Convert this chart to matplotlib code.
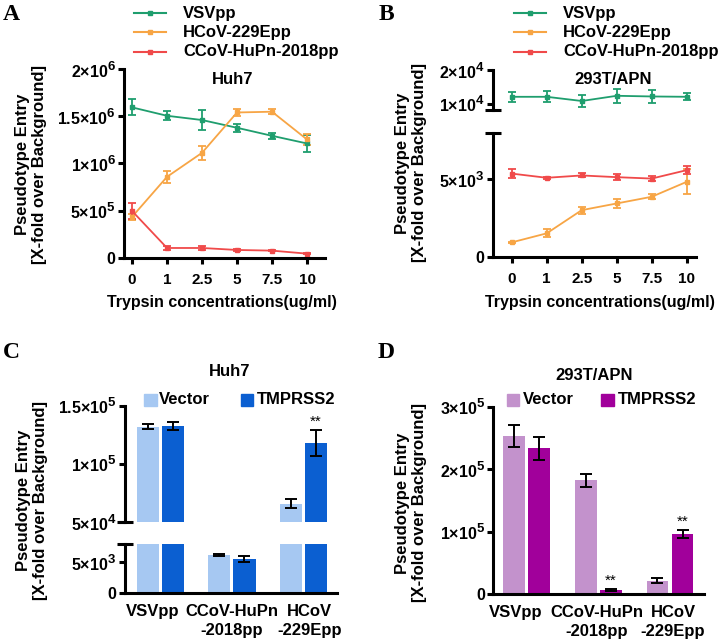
import matplotlib
matplotlib.use('Agg')
import matplotlib.pyplot as plt
from matplotlib.lines import Line2D
from matplotlib.patches import Rectangle
import numpy as np

try:
    import matplotlib._mathtext as _mt
    _mt.SHRINK_FACTOR = 0.82
except Exception:
    pass

plt.rcParams['font.family'] = ['Liberation Sans', 'DejaVu Sans']
plt.rcParams['font.weight'] = 'bold'
plt.rcParams['mathtext.fontset'] = 'custom'
plt.rcParams['mathtext.rm'] = 'Liberation Sans:bold'
plt.rcParams['mathtext.it'] = 'Liberation Sans:bold'
plt.rcParams['mathtext.bf'] = 'Liberation Sans:bold'
plt.rcParams['mathtext.sf'] = 'Liberation Sans:bold'

# ---------------- data ----------------
trypsin_labels = ['0', '1', '2.5', '5', '7.5', '10']
series_names = ['VSVpp', 'HCoV-229Epp', 'CCoV-HuPn-2018pp']

A_vsv = [1.594e6, 1.505e6, 1.46e6, 1.378e6, 1.293e6, 1.212e6]
A_vsv_err = [0.085e6, 0.048e6, 0.11e6, 0.045e6, 0.033e6, 0.09e6]
A_hcov = [0.435e6, 0.859e6, 1.113e6, 1.54e6, 1.548e6, 1.254e6]
A_hcov_err = [0.03e6, 0.062e6, 0.072e6, 0.038e6, 0.027e6, 0.062e6]
A_ccov = [0.498e6, 0.106e6, 0.106e6, 0.085e6, 0.078e6, 0.046e6]
A_ccov_err = [0.083e6, 0.025e6, 0.025e6, 0.01e6, 0.008e6, 0.005e6]

B_vsv = [1.20e4, 1.20e4, 1.075e4, 1.23e4, 1.21e4, 1.20e4]
B_vsv_err = [0.15e4, 0.17e4, 0.17e4, 0.21e4, 0.19e4, 0.10e4]
B_hcov = [0.94e3, 1.52e3, 3.01e3, 3.44e3, 3.87e3, 4.83e3]
B_hcov_err = [0.05e3, 0.26e3, 0.23e3, 0.26e3, 0.17e3, 0.80e3]
B_ccov = [5.36e3, 5.09e3, 5.24e3, 5.13e3, 5.04e3, 5.58e3]
B_ccov_err = [0.28e3, 0.08e3, 0.13e3, 0.19e3, 0.16e3, 0.27e3]

groups = ['VSVpp', 'CCoV-HuPn\n-2018pp', 'HCoV\n-229Epp']
bar_names = ['Vector', 'TMPRSS2']

C_vector = [1.319e5, 6.25e3, 6.58e4]
C_vector_err = [0.02e5, 0.19e3, 0.4e4]
C_tmprss2 = [1.328e5, 5.6e3, 1.181e5]
C_tmprss2_err = [0.035e5, 0.52e3, 1.1e4]
C_sig = [False, False, True]

D_vector = [2.537e5, 1.82e5, 2.13e4]
D_vector_err = [0.175e5, 0.107e5, 0.4e4]
D_tmprss2 = [2.335e5, 6.9e3, 9.63e4]
D_tmprss2_err = [0.18e5, 1.0e3, 0.63e4]
D_sig = [False, True, True]

A_ticks = [0, 5e5, 1e6, 1.5e6, 2e6]
A_ticklabels = ['0', r'$5{\times}10^{5}$', r'$1{\times}10^{6}$', r'$1.5{\times}10^{6}$', r'$2{\times}10^{6}$']
B_up_ticks = [1e4, 2e4]
B_up_ticklabels = [r'$1{\times}10^{4}$', r'$2{\times}10^{4}$']
B_lo_ticks = [0, 5e3]
B_lo_ticklabels = ['0', r'$5{\times}10^{3}$']
C_up_ticks = [5e4, 1e5, 1.5e5]
C_up_ticklabels = [r'$5{\times}10^{4}$', r'$1{\times}10^{5}$', r'$1.5{\times}10^{5}$']
C_lo_ticks = [0, 5e3]
C_lo_ticklabels = ['0', r'$5{\times}10^{3}$']
D_ticks = [0, 1e5, 2e5, 3e5]
D_ticklabels = ['0', r'$1{\times}10^{5}$', r'$2{\times}10^{5}$', r'$3{\times}10^{5}$']

# ---------------- style ----------------
line_colors = ['#1f9e6e', '#f7a545', '#f04a4a']
C_colors = ['#a6c8f2', '#0b5fd1']
D_colors = ['#c392cc', '#a1009b']
SPW = 2.2
YTICKFS = 11.5
XTICKFS = 11
LABFS = 11.5
YLABFS = 12
LEGFS = 12

W, H = 722, 641
fig = plt.figure(figsize=(W / 100, H / 100), dpi=100)


def ax_px(l, t, r, b):
    return fig.add_axes([l / W, 1 - b / H, (r - l) / W, (b - t) / H])


def style(ax, bottom=True):
    for s in ['top', 'right']:
        ax.spines[s].set_visible(False)
    ax.spines['left'].set_linewidth(SPW)
    ax.spines['bottom'].set_linewidth(SPW)
    ax.tick_params(direction='out', length=4, width=SPW, pad=2)
    ax.tick_params(axis='y', labelsize=YTICKFS)
    ax.tick_params(axis='x', labelsize=XTICKFS, pad=7)
    if not bottom:
        ax.spines['bottom'].set_visible(False)
        ax.tick_params(axis='x', bottom=False, labelbottom=False)


def cap(ax, ypos):
    ax.plot([0], [ypos], transform=ax.transAxes, marker='_', markersize=11,
            mew=SPW, color='k', clip_on=False)


def fx(px):
    return px / W


def fy(py):
    return 1 - py / H


def ylabel(px, py):
    fig.text(fx(px), fy(py), 'Pseudotype Entry\n[X-fold over Background]', fontsize=YLABFS,
             fontweight='bold', ha='center', va='center', rotation=90, linespacing=1.1)


def line_legend(x0, x1, xt, ys):
    for c, name, y in zip(line_colors, series_names, ys):
        fig.add_artist(Line2D([fx(x0), fx(x1)], [fy(y), fy(y)], color=c, lw=1.5,
                              transform=fig.transFigure))
        fig.add_artist(Line2D([fx((x0 + x1) / 2)], [fy(y)], color=c, marker='s', ms=2.5,
                              transform=fig.transFigure))
        fig.text(fx(xt), fy(y), name, fontsize=LEGFS, fontweight='bold', va='center', ha='left')


def bar_legend(items, y0, y1, colors):
    for (px0, px1, xt), c, name in zip(items, colors, bar_names):
        fig.add_artist(Rectangle((fx(px0), fy(y1)), fx(px1 - px0), (y1 - y0) / H,
                                 transform=fig.transFigure, color=c))
        fig.text(fx(xt), fy((y0 + y1) / 2), name, fontsize=LEGFS, fontweight='bold',
                 va='center', ha='left')


def plot_lines(ax, data):
    x = np.arange(len(trypsin_labels))
    for (vals, errs), c in zip(data, line_colors):
        ax.errorbar(x, vals, yerr=errs, color=c, lw=1.3, marker='s', ms=2.5,
                    capsize=2.8, capthick=1.3, elinewidth=1.3)


# ---------------- Panel A ----------------
axA = ax_px(124, 69, 325, 258)
style(axA)
plot_lines(axA, [(A_vsv, A_vsv_err), (A_hcov, A_hcov_err), (A_ccov, A_ccov_err)])
axA.set_xlim(-0.229, 5.514)
axA.set_ylim(0, 2e6)
axA.set_xticks(np.arange(len(trypsin_labels)))
axA.set_xticklabels(trypsin_labels)
axA.set_yticks(A_ticks)
axA.set_yticklabels(A_ticklabels)
fig.text(fx(233), fy(80), 'Huh7', fontsize=LEGFS, fontweight='bold', ha='center', va='center')
fig.text(fx(222), fy(302), 'Trypsin concentrations(ug/ml)', fontsize=LABFS, fontweight='bold',
         ha='center', va='center')
ylabel(31, 164)
line_legend(134, 166, 183, [13.3, 32.3, 51.7])

# ---------------- Panel B ----------------
axBu = ax_px(492.7, 70, 696, 110.2)
axBl = ax_px(492.7, 132.5, 696, 257)
style(axBu, bottom=False)
style(axBl)
for ax in (axBu, axBl):
    plot_lines(ax, [(B_vsv, B_vsv_err), (B_hcov, B_hcov_err), (B_ccov, B_ccov_err)])
    ax.set_xlim(-0.543, 5.266)
    ax.set_xticks(np.arange(len(trypsin_labels)))
axBu.set_ylim(8000, 20000)
axBl.set_ylim(0, 8000)
axBu.set_yticks(B_up_ticks)
axBu.set_yticklabels(B_up_ticklabels)
axBl.set_yticks(B_lo_ticks)
axBl.set_yticklabels(B_lo_ticklabels)
axBl.set_xticklabels(trypsin_labels)
cap(axBu, 0)
cap(axBl, 1)
fig.text(fx(613), fy(80), '293T/APN', fontsize=LEGFS, fontweight='bold', ha='center', va='center')
fig.text(fx(600), fy(302), 'Trypsin concentrations(ug/ml)', fontsize=LABFS, fontweight='bold',
         ha='center', va='center')
ylabel(411, 163)
line_legend(514, 546, 563, [13.3, 32.3, 51.7])


# ---------------- bar helper ----------------
def plot_bars(ax, vec, vec_err, tmp, tmp_err, colors, sig, width, off):
    x = np.arange(len(groups))
    ax.bar(x - off, vec, width, color=colors[0])
    ax.bar(x + off, tmp, width, color=colors[1])
    ax.errorbar(x - off, vec, yerr=vec_err, fmt='none', ecolor='k', elinewidth=1.4,
                capsize=4.5, capthick=1.4)
    ax.errorbar(x + off, tmp, yerr=tmp_err, fmt='none', ecolor='k', elinewidth=1.4,
                capsize=4.5, capthick=1.4)
    lo, hi = ax.get_ylim()
    for i, s in enumerate(sig):
        top = tmp[i] + tmp_err[i]
        if s and lo <= top <= hi:
            ax.annotate('**', (x[i] + off, top), xytext=(0, 1), textcoords='offset points',
                        ha='center', va='bottom', fontsize=11, fontweight='normal')


def group_ticks(ax, shifts, spacing_px):
    pos = np.arange(len(groups)) + np.array(shifts) / spacing_px
    ax.set_xticks(pos)
    ax.set_xticklabels(groups, fontsize=LEGFS)
    for lab in ax.get_xticklabels():
        lab.set_linespacing(1.3)
    ax.tick_params(axis='x', bottom=False, pad=4)


# ---------------- Panel C ----------------
axCu = ax_px(124.5, 405.7, 337, 522)
axCl = ax_px(124.5, 544.3, 337, 592.8)
style(axCu, bottom=False)
style(axCl)
axCu.set_ylim(5e4, 1.5e5)
axCl.set_ylim(0, 8e3)
for ax in (axCu, axCl):
    ax.set_xlim(-0.5, 2.468)
    plot_bars(ax, C_vector, C_vector_err, C_tmprss2, C_tmprss2_err, C_colors, C_sig, 0.31, 0.176)
axCu.set_ylim(5e4, 1.5e5)
axCl.set_ylim(0, 8e3)
axCu.set_yticks(C_up_ticks)
axCu.set_yticklabels(C_up_ticklabels)
axCl.set_yticks(C_lo_ticks)
axCl.set_yticklabels(C_lo_ticklabels)
group_ticks(axCl, [-8, 0, 6], 71.6)
cap(axCu, 0)
cap(axCl, 1)
fig.text(fx(230), fy(372), 'Huh7', fontsize=LEGFS, fontweight='bold', ha='center', va='center')
ylabel(32, 500)
bar_legend([(144, 157, 159), (240.7, 253, 256.7)], 394, 405.5, C_colors)

# ---------------- Panel D ----------------
axD = ax_px(493.3, 406.7, 704, 594.3)
style(axD)
axD.set_xlim(-0.466, 2.475)
axD.set_ylim(0, 3e5)
plot_bars(axD, D_vector, D_vector_err, D_tmprss2, D_tmprss2_err, D_colors, D_sig, 0.303, 0.175)
axD.set_ylim(0, 3e5)
axD.set_yticks(D_ticks)
axD.set_yticklabels(D_ticklabels)
group_ticks(axD, [-10.5, -1.5, 3], 71.65)
fig.text(fx(594), fy(375), '293T/APN', fontsize=LEGFS, fontweight='bold', ha='center', va='center')
ylabel(411, 503)
bar_legend([(506.7, 519.3, 522.7), (601, 613.7, 617.7)], 394, 406, D_colors)

# ---------------- panel letters ----------------
for letter, (px, py) in zip('ABCD', [(3, 4), (379, 4), (3, 342), (378, 342)]):
    fig.text(fx(px), fy(py), letter, fontsize=17, fontweight='bold', family='Liberation Serif',
             ha='left', va='top')

fig.savefig('out.png', dpi=100)
